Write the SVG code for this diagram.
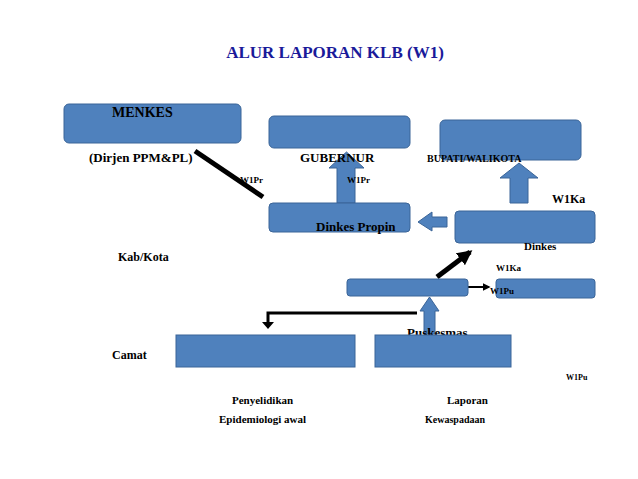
<svg xmlns="http://www.w3.org/2000/svg" width="638" height="479" viewBox="0 0 638 479">
<defs>
<style>
.b{fill:#4f81bd;stroke:#3b6598;stroke-width:1}
.t{font-family:"Liberation Serif","DejaVu Serif",serif;font-weight:bold;fill:#000}
.k{stroke:#000;fill:none}
</style>
<marker id="ah" viewBox="0 0 10 10" refX="8" refY="5" markerWidth="3" markerHeight="3" orient="auto"><path d="M0,0L10,5L0,10z" fill="#000"/></marker>
<marker id="ah2" viewBox="0 0 10 10" refX="8" refY="5" markerWidth="4" markerHeight="4" orient="auto"><path d="M0,0L10,5L0,10z" fill="#000"/></marker>
</defs>
<rect width="638" height="479" fill="#fff"/>
<text class="t" x="335" y="58" text-anchor="middle" font-size="17" fill="#1a1a9a" style="fill:#1a1a9a">ALUR LAPORAN KLB (W1)</text>
<g id="connectors">
<line class="k" x1="195" y1="151" x2="263" y2="197" stroke-width="5"/>
<path class="b" d="M337,203V168H329L346.5,152L364,168H355V203Z"/>
<path class="b" d="M510,203V178H500L519,163L538,178H528V203Z"/>
<path class="b" d="M447,217V227H432V231L418,222L432,212V217Z"/>
<line class="k" x1="437" y1="277" x2="470" y2="252" stroke-width="5" marker-end="url(#ah)"/>
<line class="k" x1="468" y1="287" x2="489" y2="287" stroke-width="2" marker-end="url(#ah2)"/>
<path class="b" d="M424,334V311H420L429.5,297L439,311H435V334Z"/>
<path class="k" d="M417,313H268V323" stroke-width="3"/>
<path d="M262,322L274,322L268,329Z" fill="#000"/>
</g>
<g id="menkes"><rect class="b" x="64" y="104" width="177" height="39" rx="5"/><text class="t" x="112" y="117" font-size="14">MENKES</text><text class="t" x="89" y="162" font-size="13">(Dirjen PPM&amp;PL)</text></g>
<g id="gubernur"><rect class="b" x="269" y="116" width="141" height="32" rx="5"/><text class="t" x="300" y="162" font-size="13">GUBERNUR</text></g>
<g id="bupati"><rect class="b" x="440" y="120" width="141" height="40" rx="5"/><text class="t" x="427" y="162" font-size="10">BUPATI/WALIKOTA</text></g>
<g id="dinkespropin"><rect class="b" x="269" y="203" width="141" height="29" rx="4"/><text class="t" x="316" y="231" font-size="13">Dinkes Propin</text></g>
<g id="dinkes"><rect class="b" x="455" y="211" width="140" height="32" rx="4"/><text class="t" x="524" y="250" font-size="11">Dinkes</text></g>
<g id="puskesmas"><rect class="b" x="347" y="279" width="121" height="17" rx="3"/><text class="t" x="407" y="337" font-size="13">Puskesmas</text></g>
<g id="w1pubox"><rect class="b" x="496" y="279" width="99" height="19" rx="3"/></g>
<g id="camat1"><rect class="b" x="176" y="335" width="179" height="32"/></g>
<g id="camat2"><rect class="b" x="375" y="335" width="136" height="32"/></g>
<g id="labels">
<text class="t" x="240" y="183" font-size="9">W1Pr</text>
<text class="t" x="347" y="183" font-size="9">W1Pr</text>
<text class="t" x="552" y="203" font-size="12">W1Ka</text>
<text class="t" x="118" y="261" font-size="12">Kab/Kota</text>
<text class="t" x="496" y="271" font-size="9">W1Ka</text>
<text class="t" x="490" y="294" font-size="9">W1Pu</text>
<text class="t" x="112" y="359" font-size="12">Camat</text>
<text class="t" x="566" y="380" font-size="8">W1Pu</text>
<text class="t" x="232" y="404" font-size="11">Penyelidikan</text>
<text class="t" x="219" y="423" font-size="11">Epidemiologi awal</text>
<text class="t" x="447" y="404" font-size="11">Laporan</text>
<text class="t" x="425" y="423" font-size="10">Kewaspadaan</text>
</g>
</svg>
